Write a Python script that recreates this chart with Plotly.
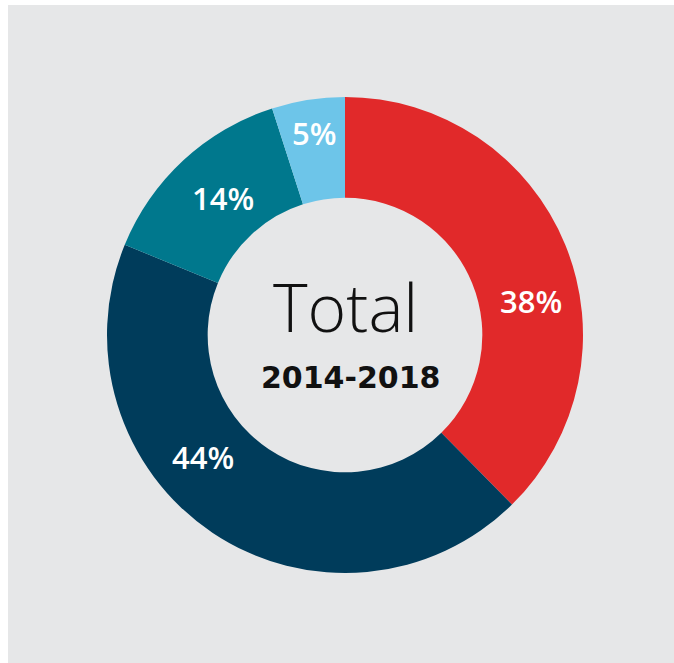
import plotly.graph_objects as go

# Data
categories = ["Segment A", "Segment B", "Segment C", "Segment D"]
values = [38, 44, 14, 5]
value_labels = ["38%", "44%", "14%", "5%"]
colors = ["#E1292A", "#003C5B", "#00788D", "#6DC5E9"]
center_title = "Total"
center_subtitle = "2014-2018"

W, H = 674, 663
BG = "#E6E7E8"

# label positions (pixels) for the percentage labels
label_px = [(531, 301), (203, 457), (223, 198), (314, 133)]

fig = go.Figure()
fig.add_trace(go.Pie(
    labels=categories,
    values=values,
    hole=0.577,
    sort=False,
    direction="clockwise",
    rotation=0,
    marker=dict(colors=colors, line=dict(width=0)),
    textinfo="none",
    hoverinfo="label+percent",
    showlegend=False,
    domain=dict(x=[107 / W, 583 / W], y=[1 - 573 / H, 1 - 97 / H]),
))

annotations = []
for (px, py), txt in zip(label_px, value_labels):
    annotations.append(dict(
        x=px / W, y=1 - py / H, xref="paper", yref="paper",
        text=txt, showarrow=False, xanchor="center", yanchor="middle",
        font=dict(family="Open Sans", size=31, color="white", weight=600),
    ))
annotations.append(dict(
    x=345 / W, y=1 - 306 / H, xref="paper", yref="paper",
    text=center_title, showarrow=False, xanchor="center", yanchor="middle",
    font=dict(family="Open Sans", size=66, color="#111111", weight=300),
))
annotations.append(dict(
    x=350 / W, y=1 - 377 / H, xref="paper", yref="paper",
    text=center_subtitle, showarrow=False, xanchor="center", yanchor="middle",
    font=dict(family="DejaVu Sans", size=30, color="#111111", weight=700),
))

fig.update_layout(
    width=W, height=H,
    margin=dict(l=0, r=0, t=0, b=0),
    paper_bgcolor="white",
    plot_bgcolor=BG,
    annotations=annotations,
    shapes=[dict(type="rect", xref="paper", yref="paper",
                 x0=8 / W, x1=1, y0=0, y1=1 - 5 / H,
                 fillcolor=BG, line=dict(width=0), layer="below")],
)

fig.write_html(
    "out.html",
    config={"displayModeBar": False},
    post_script="document.body.style.margin='0';document.body.style.overflow='hidden';",
)
